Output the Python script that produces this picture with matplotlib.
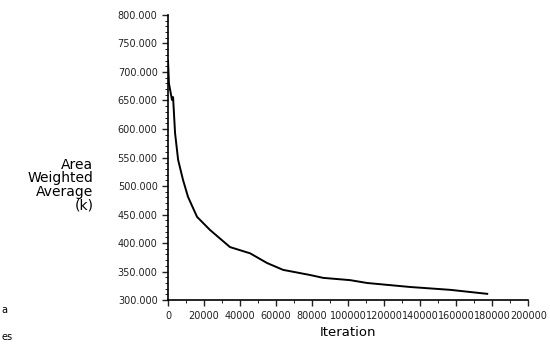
import matplotlib
matplotlib.use("Agg")
import matplotlib.pyplot as plt
from matplotlib.ticker import MultipleLocator, FormatStrFormatter

# values
iteration = [0, 500, 2200, 2800, 3900, 5600, 8300, 11100, 16100, 23300, 34400,
             45600, 55000, 63900, 78900, 86100, 101100, 110600, 134400, 156700, 177200]
temperature = [720, 680, 651, 656, 593, 546, 511, 481, 446, 423, 393,
               382, 365, 353, 344, 339, 335, 330, 323, 318, 311]

x_ticks = list(range(0, 200001, 20000))
y_ticks = list(range(300, 801, 50))

fig = plt.figure(figsize=(5.5, 3.56), dpi=100)
ax = fig.add_axes([0.3055, 0.157, 0.655, 0.801])

ax.plot(iteration, temperature, color="black", lw=1.4)

ax.set_xlim(0, 200000)
ax.set_ylim(300, 800)
ax.set_xticks(x_ticks)
ax.set_yticks(y_ticks)
ax.yaxis.set_minor_locator(MultipleLocator(10))
ax.xaxis.set_minor_locator(MultipleLocator(10000))
ax.yaxis.set_major_formatter(FormatStrFormatter("%.3f"))
ax.tick_params(labelsize=7, length=4, width=1, colors="#222222")
ax.tick_params(which="minor", length=2)

for side in ["top", "right"]:
    ax.spines[side].set_visible(False)
for side in ["left", "bottom"]:
    ax.spines[side].set_linewidth(1.2)

ax.set_xlabel("Iteration", fontsize=9.5, labelpad=4)
fig.text(0.17, 0.48, "Area\nWeighted\nAverage\n(k)", ha="right", va="center",
         fontsize=10, linespacing=0.95)

# small text fragments at the left edge of the picture
fig.text(0.003, 0.12, "a", fontsize=7, ha="left")
fig.text(0.003, 0.045, "es", fontsize=7, ha="left")

fig.savefig("out.png", dpi=100)
